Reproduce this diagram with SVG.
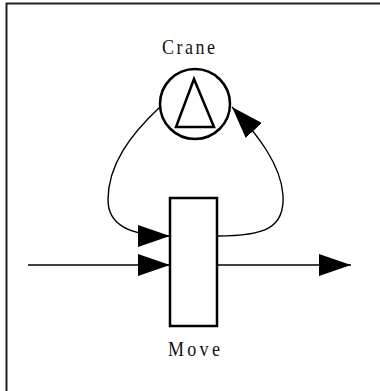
<svg xmlns="http://www.w3.org/2000/svg" width="380" height="391" viewBox="0 0 380 391">
<style>
.frame{fill:none;stroke:#222;stroke-width:2}
.shape{fill:#fff;stroke:#000;stroke-width:2.5}
.conn{fill:none;stroke:#000;stroke-width:1.4}
.lbl{font-family:"Liberation Serif","Times New Roman",serif;font-size:22px;fill:#111}
</style>
<defs>
<marker id="arr" markerUnits="userSpaceOnUse" markerWidth="32" markerHeight="22" viewBox="0 0 32 22" refX="32" refY="11" orient="auto">
<path d="M0,0 L32,11 L0,22 z" fill="#000"/>
</marker>
</defs>
<path class="frame" d="M6.5,391 V3.5 H380"/>
<g id="connectors">
<path class="conn" d="M28,265 H170" marker-end="url(#arr)"/>
<path class="conn" d="M217,265 H351" marker-end="url(#arr)"/>
<path class="conn" d="M217,236 C265,236 285,228 283,195 C281,165 258,135 232,107" marker-end="url(#arr)"/>
<path class="conn" d="M160,107 C130,135 108,165 108,200 C108,228 135,236 170,236" marker-end="url(#arr)"/>
</g>
<g id="crane">
<circle class="shape" cx="195" cy="104" r="35"/>
<path class="shape" d="M194,79 L176,127 L214,127 z"/>
<text class="lbl" transform="translate(162,54) scale(0.82,1)" letter-spacing="3">Crane</text>
</g>
<g id="move">
<rect class="shape" x="170" y="198" width="47" height="128" stroke-width="2"/>
<text class="lbl" transform="translate(168,356) scale(0.82,1)" letter-spacing="4">Move</text>
</g>
</svg>
